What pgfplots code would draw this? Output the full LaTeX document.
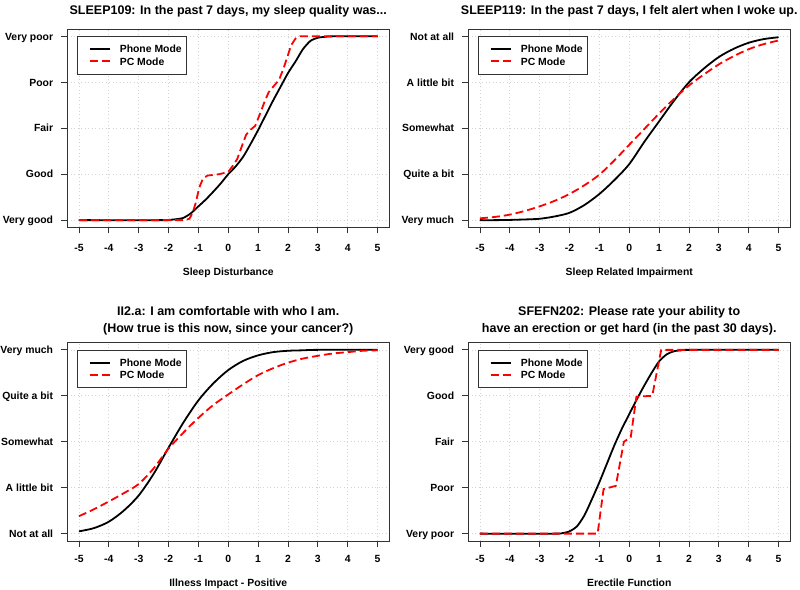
\documentclass[border=0pt]{standalone}
\usepackage{pgfplots}
\pgfplotsset{compat=1.18}
\usepackage{fontspec}
\setmainfont{Liberation Sans}
\definecolor{gridgray}{HTML}{D3D3D3}
\newcommand{\lblfont}{\fontsize{10.4bp}{12bp}\selectfont\bfseries}
\newcommand{\ttlfont}{\fontsize{12.5bp}{17bp}\selectfont\bfseries}
\tikzset{
  phone/.style={draw=black, line width=1.8bp, solid},
  pc/.style={draw=red, line width=1.8bp, dash pattern=on 8bp off 4bp},
}
\pgfplotsset{
  legend image code/.code={\path (-6bp,0bp); \draw[#1] (0bp,0bp) -- (20bp,0bp);},
  every axis title shift=0pt,
}
\newcommand{\modelegend}{%
  \addlegendimage{draw=black, line width=1.8bp, solid}
  \addlegendentry{Phone Mode}
  \addlegendimage{draw=red, line width=1.8bp, dash pattern=on 8bp off 4bp}
  \addlegendentry{PC Mode}}
\pgfplotsset{
  panel/.style={
    scale only axis, width=322.5bp, height=198.5bp,
    xmin=-5.4, xmax=5.4, ymin=-0.16, ymax=4.16,
    xtick={-5,-4,-3,-2,-1,0,1,2,3,4,5},
    xticklabels={-5,-4,-3,-2,-1,0,1,2,3,4,5},
    ytick={0,1,2,3,4},
    tick pos=left, tick align=outside, major tick length=6bp,
    axis line style={black!80, line width=0.8bp},
    major tick style={black!80, line width=0.8bp},
    grid=major,
    grid style={gridgray, line width=0.7bp, dash pattern=on 1bp off 2.5bp},
    tick label style={font=\lblfont, inner sep=0pt, text height=7.5bp, text depth=0pt},
    yticklabel style={anchor=east, xshift=-7.7bp},
    xticklabel style={anchor=north},
    xlabel style={font=\lblfont, at={(axis description cs:0.5,0)}, anchor=base},
    title style={font=\ttlfont, align=center, at={(axis description cs:0.5,1)}, anchor=base},
    legend style={at={(axis cs:-5,4)}, anchor=north west, xshift=-1.5bp,
      draw=black!80, fill=white,
      inner xsep=5bp, inner ysep=6.4bp, column sep=9.4bp, row sep=0pt,
      font=\lblfont,
      nodes={inner xsep=0pt, inner ysep=2.4bp, text height=7.5bp, text depth=0pt}},
    legend cell align=left,
  },
  toprow/.style={xticklabel style={yshift=-10bp}, xlabel style={yshift=-48.5bp}, title style={yshift=14.5bp}},
  botrow/.style={xticklabel style={yshift=-7.5bp}, xlabel style={yshift=-45.5bp}, title style={yshift=10bp}},
}
\begin{document}
\begin{tikzpicture}
\path[use as bounding box] (0,0) rectangle (800bp,590bp);

% ---------------- Top left ----------------
\begin{axis}[panel, toprow, at={(67bp,362.5bp)}, anchor=south west,
  yticklabels={Very good,Good,Fair,Poor,Very poor},
  xlabel={Sleep Disturbance},
  title={SLEEP109: In the past 7 days, my sleep quality was...}]
\modelegend
\addplot[phone, smooth, tension=0.4, forget plot] table {
x y
-5 0
-2.2 0
-2 0.005
-1.75 0.02
-1.5 0.05
-1.25 0.15
-1 0.3
-0.75 0.45
-0.5 0.62
-0.25 0.8
0 1.0
0.25 1.17
0.5 1.38
0.75 1.66
1 1.96
1.25 2.28
1.5 2.6
1.75 2.9
2 3.2
2.25 3.45
2.5 3.72
2.75 3.9
3 3.97
3.25 3.99
3.5 4
5 4
};
\addplot[pc, forget plot] table {
x y
-5 0
-1.45 0
-1.3 0.03
-1.2 0.15
-1.1 0.35
-0.97 0.71
-0.85 0.9
-0.7 0.97
-0.3 1.0
0 1.05
0.15 1.18
0.3 1.33
0.45 1.6
0.6 1.86
0.75 1.97
0.9 2.05
1.05 2.29
1.2 2.55
1.35 2.78
1.5 2.9
1.7 3.05
1.85 3.3
2.0 3.59
2.1 3.8
2.25 3.95
2.4 4.0
5 4
};
\end{axis}

% ---------------- Top right ----------------
\begin{axis}[panel, toprow, at={(468bp,362.5bp)}, anchor=south west,
  yticklabels={Very much,Quite a bit,Somewhat,A little bit,Not at all},
  xlabel={Sleep Related Impairment},
  title={SLEEP119: In the past 7 days, I felt alert when I woke up.}]
\modelegend
\addplot[phone, smooth, tension=0.5, forget plot] table {
x y
-5 0.0
-4.5 0.0
-4 0.005
-3.5 0.015
-3 0.03
-2.5 0.08
-2 0.16
-1.5 0.33
-1 0.57
-0.5 0.87
0 1.22
0.5 1.7
1 2.15
1.5 2.6
2 3.0
2.5 3.3
3 3.55
3.5 3.73
4 3.86
4.5 3.94
5 3.98
};
\addplot[pc, smooth, tension=0.5, forget plot] table {
x y
-5 0.04
-4.5 0.07
-4 0.12
-3.5 0.2
-3 0.3
-2.5 0.42
-2 0.57
-1.5 0.76
-1 0.99
-0.5 1.3
0 1.64
0.5 1.98
1 2.32
1.5 2.64
2 2.93
2.5 3.17
3 3.39
3.5 3.57
4 3.72
4.5 3.83
5 3.91
};
\end{axis}

% ---------------- Bottom left ----------------
\begin{axis}[panel, botrow, at={(67bp,49bp)}, anchor=south west,
  yticklabels={Not at all,A little bit,Somewhat,Quite a bit,Very much},
  xlabel={Illness Impact - Positive},
  title={II2.a: I am comfortable with who I am.\\(How true is this now, since your cancer?)}]
\modelegend
\addplot[phone, smooth, tension=0.5, forget plot] table {
x y
-5 0.05
-4.5 0.12
-4 0.26
-3.5 0.5
-3 0.83
-2.5 1.3
-2 1.87
-1.5 2.42
-1 2.9
-0.5 3.27
0 3.56
0.5 3.76
1 3.88
1.5 3.95
2 3.98
2.5 3.99
3 4
5 4
};
\addplot[pc, smooth, tension=0.5, forget plot] table {
x y
-5 0.38
-4.5 0.53
-4 0.7
-3.5 0.88
-3 1.08
-2.5 1.42
-2 1.85
-1.5 2.2
-1 2.52
-0.5 2.8
0 3.03
0.5 3.25
1 3.45
1.5 3.6
2 3.72
2.5 3.81
3 3.87
3.5 3.92
4 3.95
4.5 3.98
5 3.99
};
\end{axis}

% ---------------- Bottom right ----------------
\begin{axis}[panel, botrow, at={(468bp,49bp)}, anchor=south west,
  yticklabels={Very poor,Poor,Fair,Good,Very good},
  xlabel={Erectile Function},
  title={SFEFN202: Please rate your ability to\\have an erection or get hard (in the past 30 days).}]
\modelegend
\addplot[phone, smooth, tension=0.4, forget plot] table {
x y
-5 0
-2.5 0
-2.25 0.01
-2 0.05
-1.75 0.16
-1.5 0.4
-1.25 0.75
-1 1.12
-0.75 1.52
-0.5 1.92
-0.25 2.28
0 2.6
0.25 2.92
0.5 3.22
0.75 3.5
1 3.75
1.25 3.9
1.5 3.97
1.75 3.99
2 4
5 4
};
\addplot[pc, forget plot] table {
x y
-5 0
-1.06 0
-0.86 0.97
-0.45 1.04
-0.18 2.0
0.05 2.1
0.24 2.98
0.77 3.0
1.07 4.0
5 4
};
\end{axis}
\end{tikzpicture}
\end{document}
